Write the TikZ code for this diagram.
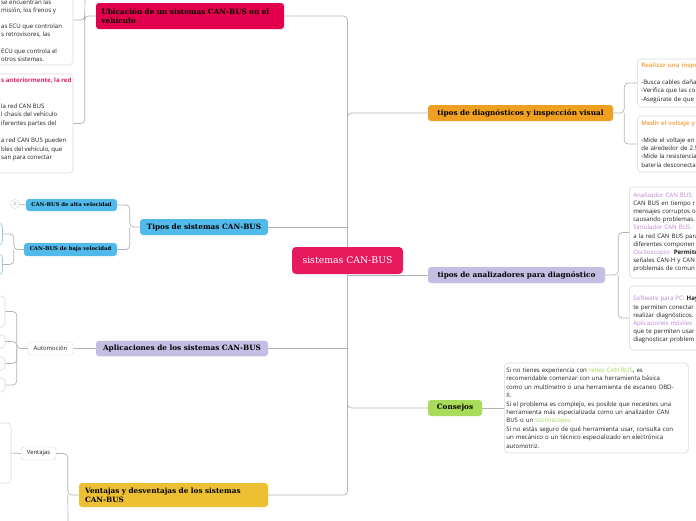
\documentclass[tikz,border=0pt]{standalone}
\usepackage{fontspec}
\setmainfont{DejaVu Serif}
\newfontfamily\notefont{Open Sans}
\usetikzlibrary{positioning,calc}
\definecolor{cancentral}{RGB}{230,25,92}
\definecolor{ubicred}{RGB}{226,0,78}
\definecolor{tiposblue}{RGB}{82,186,234}
\definecolor{aplicpurple}{RGB}{196,191,226}
\definecolor{ventyellow}{RGB}{237,192,52}
\definecolor{diagorange}{RGB}{240,160,32}
\definecolor{consgreen}{RGB}{170,220,92}
\definecolor{linegray}{RGB}{180,180,180}
\definecolor{boxgray}{RGB}{218,218,218}
\definecolor{txtgray}{RGB}{30,30,30}
\definecolor{labpurple}{RGB}{186,132,214}
\definecolor{laborange}{RGB}{246,170,88}
\definecolor{labgreen}{RGB}{160,214,80}
\definecolor{labpink}{RGB}{232,30,95}

\begin{document}
\begin{tikzpicture}[
  x=1pt, y=-1pt,
  central/.style={rounded corners=4pt, fill=cancentral, text=white, font=\fontsize{9.3}{10}\selectfont, minimum width=111pt, minimum height=27pt},
  topic/.style={rounded corners=3pt, inner xsep=2pt, inner ysep=1pt, align=left, font=\bfseries\fontsize{7.3}{8.8}\selectfont},
  subtopic/.style={rounded corners=3pt, fill=tiposblue, inner sep=1pt, font=\bfseries\fontsize{5.3}{6}\selectfont},
  leaf/.style={draw=boxgray, fill=white, rounded corners=3pt, inner sep=1pt, text=txtgray, font=\notefont\fontsize{5.9}{6}\selectfont},
  note/.style={draw=boxgray, fill=white, rounded corners=4pt, line width=0.6pt, inner xsep=4pt, inner ysep=0pt, align=left, text=txtgray, font=\notefont\fontsize{6.1}{8.4}\selectfont},
  notetext/.style={align=left, text=txtgray, inner sep=0pt, anchor=north west, font=\notefont\fontsize{6.1}{8.4}\selectfont},
  conn/.style={draw=linegray, line width=0.7pt, rounded corners=4pt}
]
\useasboundingbox (0,0) rectangle (696,520);
\clip (0,0) rectangle (696,520);
\fill[white] (0,0) rectangle (696,520);

% centre and main topics
\node[central] (can) at (347.5,260.5) {sistemas CAN-BUS};
\node[topic, fill=ubicred, minimum width=188pt, minimum height=26pt, text width=177pt] (ubic) at (190,16) {Ubicación de un sistemas CAN-BUS en el\\vehiculo};
\node[topic, fill=tiposblue, minimum width=128pt, minimum height=16pt] (tipos) at (204,227) {Tipos de sistemas CAN-BUS};
\node[topic, fill=aplicpurple, minimum width=172pt, minimum height=15.5pt] (aplic) at (182,348.5) {Aplicaciones de los sistemas CAN-BUS};
\node[topic, fill=ventyellow, minimum width=189pt, minimum height=24pt, text width=177pt] (ventdes) at (173.5,495) {Ventajas y desventajas de los sistemas\\CAN-BUS};
\node[topic, fill=diagorange, minimum width=185pt, minimum height=16pt] (diag) at (520.5,113) {tipos de diagnósticos y inspección visual};
\node[topic, fill=aplicpurple, minimum width=177pt, minimum height=16pt] (anal) at (516.5,275) {tipos de analizadores para diagnóstico};
\node[topic, fill=consgreen, minimum width=54pt, minimum height=16pt] (consejos) at (455,408) {Consejos};

% left subtopics
\node[subtopic, minimum width=91pt, minimum height=12pt] (alta) at (71.5,205) {CAN-BUS de alta velocidad};
\node[subtopic, minimum width=93pt, minimum height=13pt] (baja) at (70.5,249.5) {CAN-BUS de baja velocidad};
\node[circle, draw=boxgray, fill=white, minimum size=9pt, inner sep=0pt, text=gray, font=\notefont\fontsize{4.5}{5}\selectfont] (cnt) at (15,204) {2};
\node[leaf, minimum width=45pt, minimum height=13pt] (autom) at (50.5,348.5) {Automoción};
\node[leaf, minimum width=35pt, minimum height=13pt] (ventajas) at (38.5,453.5) {Ventajas};

% cut boxes on the left
\node[note, minimum width=113pt, minimum height=90pt] (ubicA) at (16.5,20) {};
\node[note, minimum width=113pt, minimum height=99pt] (ubicB) at (16.5,123.5) {};
\node[note, draw=tiposblue!70, minimum width=32.5pt, minimum height=22pt] (bajaA) at (-13.75,234) {};
\node[note, draw=tiposblue!70, minimum width=32.5pt, minimum height=21pt] (bajaB) at (-13.75,264.5) {};
\node[note, minimum width=35pt, minimum height=31pt] (automA) at (-12.5,311.5) {};
\node[note, minimum width=35pt, minimum height=13pt] (automB) at (-12.5,341.5) {};
\node[note, minimum width=35pt, minimum height=13pt] (automC) at (-12.5,363.5) {};
\node[note, minimum width=35pt, minimum height=14pt] (automD) at (-12.5,385) {};
\node[note, minimum width=41pt, minimum height=60pt] (ventajasA) at (-9.5,453) {};

\node[notetext, font=\notefont\fontsize{6.1}{8.2}\selectfont] (ubicAtxt) at (1,-0.8) {se encuentran las\\misión, los frenos y\\[8.2pt]as ECU que controlan\\s retrovisores, las\\[8.2pt]ECU que controla el\\otros sistemas.};
\node[notetext, font=\notefont\fontsize{6.1}{8.6}\selectfont] (ubicBtxt) at (1,77.7) {{\color{labpink}\bfseries s anteriormente, la red}\\[17.2pt]la red CAN BUS\\l chasis del vehículo\\iferentes partes del\\[8.6pt]a red CAN BUS pueden\\bles del vehículo, que\\san para conectar};

% notes on the right
\node[note, anchor=west, text width=95pt, minimum height=48pt] (diagA) at (637,83) {{\color{laborange}\bfseries Realizar una inspe}\\[8.4pt]-Busca cables daña\\-Verifica que las co\\-Asegúrate de que};
\node[note, anchor=west, text width=95pt, minimum height=56pt] (diagB) at (637,144) {{\color{laborange}\bfseries Medir el voltaje y l}\\[8.4pt]-Mide el voltaje en\\de alrededor de 2.5\\-Mide la resistencia\\batería desconecta};
\node[note, anchor=west, text width=103pt, minimum height=91pt, font=\notefont\fontsize{6.1}{8.2}\selectfont] (analA) at (629,232.5) {{\color{labpurple}Analizador CAN BUS:}\\CAN BUS en tiempo r\\mensajes corruptos o\\causando problemas.\\{\color{labpurple}Simulador CAN BUS:}\\a la red CAN BUS para\\diferentes componen\\{\color{labpurple}Osciloscopio:} \textbf{Permite}\\señales CAN-H y CAN\\problemas de comun};
\node[note, anchor=west, text width=103pt, minimum height=64pt, font=\notefont\fontsize{6.1}{8.2}\selectfont] (analB) at (629,318) {\mbox{}\\{\color{labpurple}Software para PC:} \textbf{Hay}\\te permiten conectar\\realizar diagnósticos.\\{\color{labpurple}Aplicaciones móviles}\\que te permiten usar\\diagnosticar problem};
\node[note, anchor=west, text width=180pt, inner xsep=2pt, minimum height=90pt] (consejosTxt) at (504,408) {Si no tienes experiencia con {\color{labgreen}redes CAN BUS}, es\\recomendable comenzar con una herramienta básica\\como un multímetro o una herramienta de escaneo OBD-\\II.\\Si el problema es complejo, es posible que necesites una\\herramienta más especializada como un analizador CAN\\BUS o un {\color{labgreen}osciloscopio.}\\Si no estás seguro de qué herramienta usar, consulta con\\un mecánico o un técnico especializado en electrónica\\automotriz.};

% connectors
\draw[conn] (ubic.east) -| (can) |- (ventdes.east);
\draw[conn] (tipos.east) -- (tipos.east -| can);
\draw[conn] (aplic.east) -- (aplic.east -| can);
\draw[conn] (diag.west) -| (can) |- (consejos.west);
\draw[conn] (anal.west) -- (anal.west -| can);

\draw[conn] (ubic.west) -- ++(-11,0) coordinate (ubicj) |- (ubicA.east);
\draw[conn] (ubicj) |- (ubicB.east);
\coordinate (ubictop) at (85,-8);
\draw[conn] (ubicj) -- (ubictop);
\draw[conn] (tipos.west) -- ++(-10,0) coordinate (tiposj) |- (alta.east);
\draw[conn] (tiposj) |- (baja.east);
\draw[conn] (alta.west) -- (cnt);
\draw[conn] (baja.west) -- ++(-10,0) coordinate (bajaj) |- (bajaA.east);
\draw[conn] (bajaj) |- (bajaB.east);
\draw[conn] (aplic.west) -- (autom.east);
\draw[conn] (autom.west) -- ++(-11,0) coordinate (automj) |- (automA.east);
\foreach \b in {automB,automC,automD}
  \draw[conn] (automj) |- (\b.east);
\draw[conn] (ventdes.west) -- ++(-11,0) coordinate (ventdesj) |- (ventajas.east);
\coordinate (ventdown) at (68,530);
\draw[conn] (ventdesj) -- (ventdown);
\draw[conn] (ventajas.west) -- (ventajasA.east);
\draw[conn] (diag.east) -- ++(11,0) coordinate (diagj) |- (diagA.west);
\draw[conn] (diagj) |- (diagB.west);
\draw[conn] (anal.east) -- ++(13,0) coordinate (analj) |- (analA.west);
\draw[conn] (analj) |- (analB.west);
\draw[conn] (consejos.east) -- (consejosTxt.west);
\end{tikzpicture}
\end{document}
